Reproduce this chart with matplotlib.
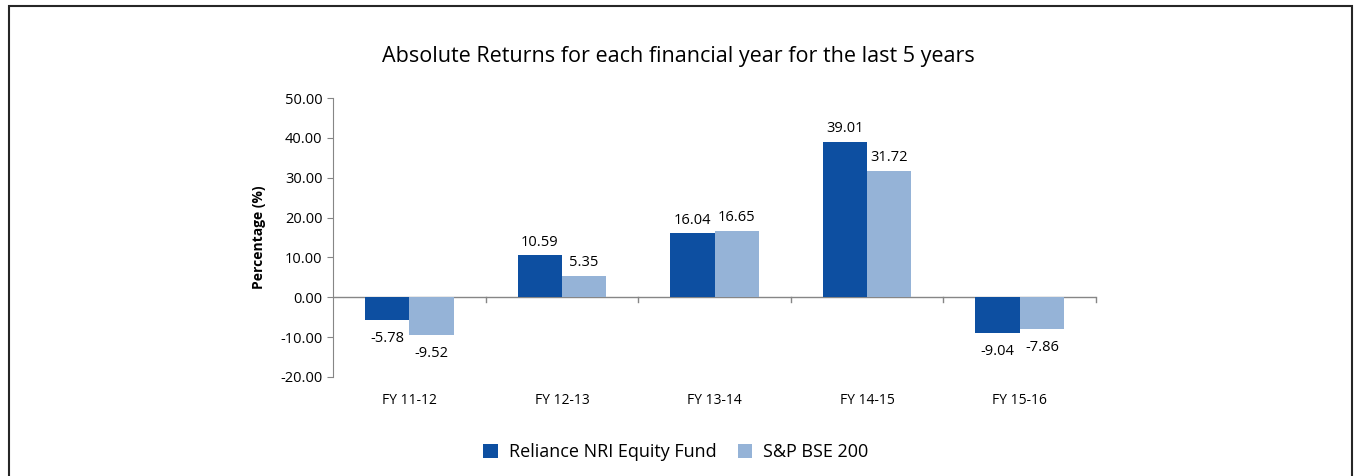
import matplotlib.pyplot as plt
import matplotlib.patches as mpatches
import numpy as np

plt.rcParams['font.family'] = ['Open Sans', 'DejaVu Sans']

years = ['FY 11-12', 'FY 12-13', 'FY 13-14', 'FY 14-15', 'FY 15-16']
fund = [-5.78, 10.59, 16.04, 39.01, -9.04]
index = [-9.52, 5.35, 16.65, 31.72, -7.86]
series_names = ['Reliance NRI Equity Fund', 'S&P BSE 200']

c_fund = '#0D4FA1'
c_index = '#95B3D7'
axis_grey = '#868686'

fig = plt.figure(figsize=(13.57, 4.76), dpi=100)
ax = fig.add_axes([0.2454, 0.208, 0.5623, 0.586])

x = np.arange(len(years))
w = 0.29
b1 = ax.bar(x - w / 2, fund, w, color=c_fund, label=series_names[0])
b2 = ax.bar(x + w / 2, index, w, color=c_index, label=series_names[1])

for bars in (b1, b2):
    for b in bars:
        v = b.get_height()
        xc = b.get_x() + b.get_width() / 2
        if v >= 0:
            ax.annotate('%.2f' % v, (xc, v), xytext=(0, 4), textcoords='offset points',
                        ha='center', va='bottom', fontsize=10.5)
        else:
            ax.annotate('%.2f' % v, (xc, v), xytext=(0, -8), textcoords='offset points',
                        ha='center', va='top', fontsize=10.5)

ax.set_xlim(-0.5, len(years) - 0.5)
ax.set_ylim(-20, 50)
ax.set_yticks(np.arange(-20, 51, 10))
ax.set_yticklabels(['%.2f' % t for t in np.arange(-20, 51, 10)], fontsize=10.5)

# category labels below the plot, boundary ticks on the zero line
ax.set_xticks([])
for i, lab in enumerate(years):
    ax.text(i, -24.0, lab, ha='center', va='top', fontsize=10)
ax.axhline(0, color=axis_grey, lw=1, zorder=0)
for bx in np.arange(-0.5, len(years), 1.0)[1:]:
    ax.plot([bx, bx], [0, -1.2], color=axis_grey, lw=1, clip_on=False)

for s in ['top', 'right', 'bottom']:
    ax.spines[s].set_visible(False)
ax.spines['left'].set_color(axis_grey)
ax.tick_params(axis='y', colors=axis_grey, labelcolor='black', length=4)

ax.set_ylabel('Percentage (%)', fontsize=10, fontweight='bold', labelpad=10)

fig.text(0.5, 0.882, 'Absolute Returns for each financial year for the last 5 years',
         ha='center', va='center', fontsize=15.5)

fig.legend(handles=[b1, b2], loc='center', bbox_to_anchor=(0.498, 0.05), ncol=2,
           frameon=False, fontsize=13, handlelength=0.8, handleheight=0.8,
           columnspacing=1.2, handletextpad=0.6)

frame = mpatches.Rectangle((0.0066, -0.05), 0.9897, 1.037, transform=fig.transFigure,
                           fill=False, edgecolor='#262626', lw=1.5)
fig.patches.append(frame)

fig.savefig('out.png', dpi=100)
